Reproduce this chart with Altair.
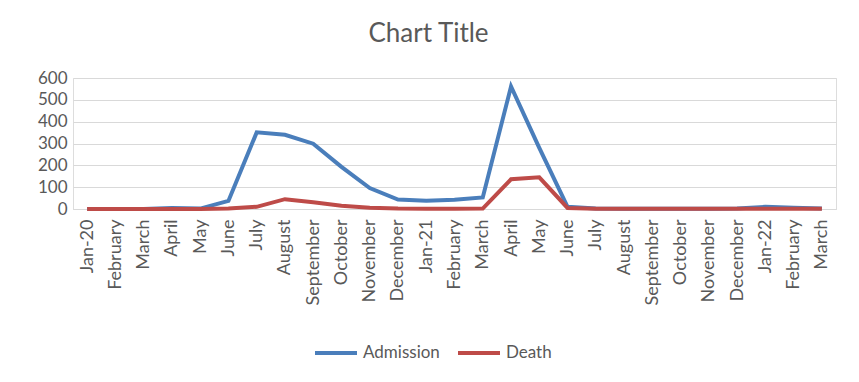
import json
import altair as alt
import pandas as pd

months = ["Jan-20", "February", "March", "April", "May", "June", "July", "August",
          "September", "October", "November", "December", "Jan-21", "February",
          "March", "April", "May", "June", "July", "August", "September", "October",
          "November", "December", "Jan-22", "February", "March"]
admission = [0, 0, 0, 5, 2, 37, 351, 340, 299, 193, 96, 43, 38, 42, 53, 561, 280,
             10, 2, 1, 1, 1, 1, 2, 10, 6, 2]
death = [0, 0, 0, 0, 0, 2, 10, 45, 31, 15, 6, 2, 1, 1, 2, 136, 145, 5, 1, 1, 1, 1,
         1, 1, 1, 1, 1]
series = ["Admission", "Death"]
colors = ["#4A7EBB", "#BE4B48"]

rows = []
for i in range(len(months)):
    rows.append({"idx": i, "series": series[0], "value": admission[i]})
    rows.append({"idx": i, "series": series[1], "value": death[i]})
df = pd.DataFrame(rows)

label_expr = json.dumps(months) + "[datum.value]"
FONT = "Lato"
TXT = "#595959"

chart = alt.Chart(df).mark_line(strokeWidth=4, strokeCap="butt", strokeJoin="miter").encode(
    x=alt.X("idx:O", scale=alt.Scale(type="point", padding=0.5),
            axis=alt.Axis(title=None, labelExpr=label_expr, labelAngle=-90,
                          labelAlign="right", labelBaseline="middle", ticks=False,
                          domainColor="#D9D9D9", domainWidth=1, labelPadding=10,
                          labelFontSize=18, labelFont=FONT, labelColor=TXT, grid=False)),
    y=alt.Y("value:Q", scale=alt.Scale(domain=[0, 600], nice=False),
            axis=alt.Axis(title=None, values=[0, 100, 200, 300, 400, 500, 600],
                          ticks=False, domain=False, gridColor="#D9D9D9", gridWidth=1,
                          labelPadding=6, labelFontSize=17, labelFont=FONT,
                          labelColor=TXT)),
    color=alt.Color("series:N", scale=alt.Scale(domain=series, range=colors),
                    legend=alt.Legend(title=None, orient="none", legendX=240, legendY=252,
                                      direction="horizontal", symbolType="stroke",
                                      symbolSize=1764, symbolStrokeWidth=4,
                                      labelFontSize=17, labelFont=FONT, labelColor=TXT,
                                      columnPadding=10, labelOffset=4)),
).properties(
    width=763, height=131,
    title=alt.TitleParams("Chart Title", fontSize=26, font=FONT, color=TXT,
                          fontWeight="normal", anchor="middle", dx=-26, offset=22),
    autosize=alt.AutoSizeParams(type="none"),
    padding={"left": 65, "top": 70, "right": 15, "bottom": 165},
).configure_view(stroke=None).configure(background="white")

chart.save("out.html", embed_options={"renderer": "svg", "actions": False})
